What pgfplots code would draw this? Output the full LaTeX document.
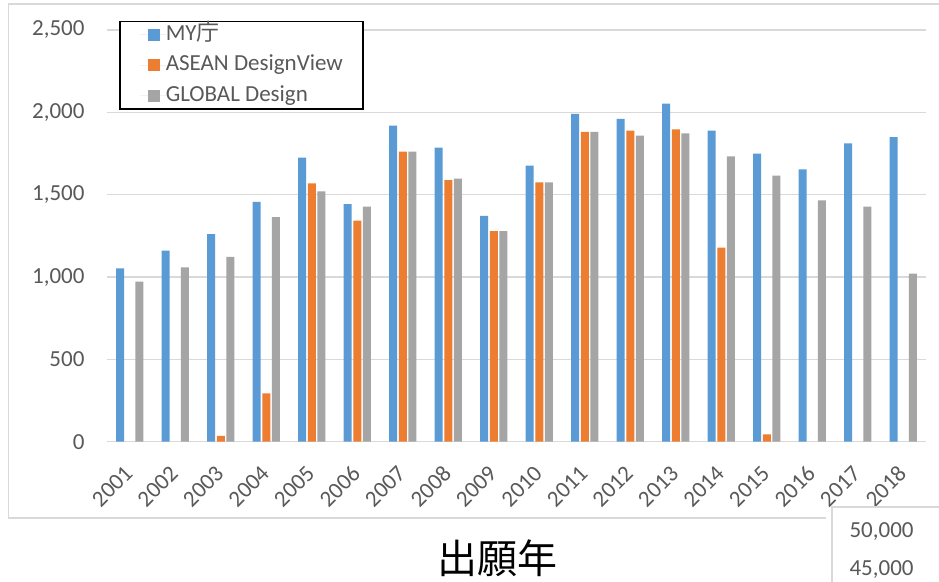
\documentclass[border=0pt]{standalone}
\usepackage{fontspec}
\setmainfont{Carlito}
\newfontfamily\cjk{Noto Sans CJK JP}
\usepackage{pgfplots}
\pgfplotsset{compat=1.18}
\definecolor{cblue}{HTML}{5B9BD5}
\definecolor{corange}{HTML}{ED7D31}
\definecolor{cgray}{HTML}{A5A5A5}
\definecolor{gridc}{HTML}{D9D9D9}
\definecolor{txt}{HTML}{595959}
\pgfplotstableread{
x blue gray
0 1053 972
1 1160 1059
2 1261 1123
3 1457 1364
4 1725 1520
5 1443 1427
6 1919 1761
7 1785 1597
8 1372 1279
9 1676 1575
10 1990 1881
11 1960 1858
12 2053 1873
13 1889 1733
14 1749 1615
15 1654 1466
16 1812 1427
17 1850 1020
}\bluegray
\pgfplotstableread{
x orange
2 36
3 294
4 1569
5 1342
6 1761
7 1589
8 1279
9 1575
10 1881
11 1889
12 1897
13 1178
14 45
}\orangetab
\begin{document}
\begin{tikzpicture}
\useasboundingbox (0pt,0pt) rectangle (939pt,581pt);
\fill[white] (0pt,0pt) rectangle (939pt,581pt);
\draw[gridc, line width=1.5pt] (826pt,63pt) -- (8.5pt,63pt) -- (8.5pt,577pt) -- (945pt,577pt);
\begin{axis}[
  at={(107pt,139.3pt)}, anchor=south west,
  scale only axis, width=819pt, height=411.7pt,
  ybar=1.7pt, bar width=8pt,
  ymin=0, ymax=2500, xmin=-0.5, xmax=17.5,
  ytick={0,500,...,2500},
  xtick={0,...,17},
  xticklabels={2001,2002,2003,2004,2005,2006,2007,2008,2009,2010,2011,2012,2013,2014,2015,2016,2017,2018},
  ymajorgrids, major grid style={gridc, line width=1.5pt},
  axis line style={draw=none}, major tick length=0pt,
  tick label style={txt, font=\fontsize{23}{23}\selectfont},
  /pgf/number format/assume math mode=true,
  /pgf/number format/1000 sep={,},
  yticklabel style={xshift=-19pt},
  xticklabel style={yshift=-28pt, xshift=-1pt, rotate=45, anchor=east, inner sep=0pt},
  legend image code/.code={\fill[#1,draw=none] (8pt,-6pt) rectangle (20pt,6pt); \path (0pt,0pt) -- (26pt,0pt);},
  legend cell align=left,
  legend style={at={(axis description cs:0.0147,1.0219)}, anchor=north west,
    draw=black, line width=1.5pt, fill=white, text=txt,
    font=\fontsize{23}{23}\selectfont,
    inner xsep=20pt, inner ysep=3.5pt, row sep=11pt,
    nodes={inner sep=0pt, text height=15pt, text depth=4.5pt}},
]
\addplot[fill=cblue, draw=none] table[x=x, y=blue] {\bluegray};
\addplot[fill=corange, draw=none] table[x=x, y=orange] {\orangetab};
\addplot[fill=cgray, draw=none] table[x=x, y=gray] {\bluegray};
\legend{MY{\cjk 庁}, ASEAN DesignView, GLOBAL Design}
\end{axis}
\node[font=\cjk\fontsize{40}{40}\selectfont, text=black] at (497pt,23pt) {出願年};
\draw[gridc, line width=1.5pt, fill=white] (832pt,-10pt) -- (832pt,74pt) -- (950pt,74pt) -- (950pt,-10pt) -- cycle;
\node[txt, font=\fontsize{23}{23}\selectfont, anchor=west] at (846pt,49pt) {50,000};
\node[txt, font=\fontsize{23}{23}\selectfont, anchor=west] at (846pt,11pt) {45,000};
\end{tikzpicture}
\end{document}
